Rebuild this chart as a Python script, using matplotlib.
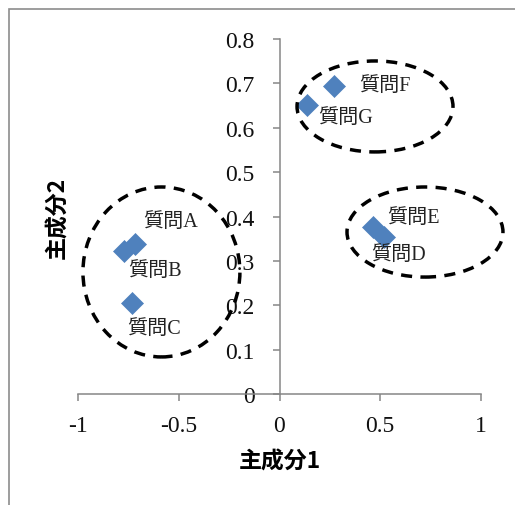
import matplotlib
matplotlib.use("Agg")
import matplotlib.pyplot as plt
from matplotlib.patches import Ellipse, Rectangle

# Data
labels = ["質問A", "質問B", "質問C", "質問D", "質問E", "質問F", "質問G"]
pc1 = [-0.717, -0.770, -0.730, 0.519, 0.466, 0.272, 0.135]
pc2 = [0.338, 0.323, 0.204, 0.353, 0.376, 0.693, 0.651]
# label offsets in points (dx, dy)
label_offsets = [(6, 16), (3, -14), (-4, -18), (-9, -12), (10, 7), (18, 1), (8, -9)]

# Cluster ellipses: center x, center y, width, height (data units)
ell_cx = [-0.586, 0.474, 0.722]
ell_cy = [0.275, 0.648, 0.365]
ell_w = [0.779, 0.774, 0.774]
ell_h = [0.383, 0.205, 0.203]

xticks = [-1, -0.5, 0, 0.5, 1]
xticklabels = ["-1", "-0.5", "0", "0.5", "1"]
yticks = [0, 0.1, 0.2, 0.3, 0.4, 0.5, 0.6, 0.7, 0.8]
yticklabels = ["0", "0.1", "0.2", "0.3", "0.4", "0.5", "0.6", "0.7", "0.8"]

W, H = 515, 506
fig = plt.figure(figsize=(W / 100, H / 100), dpi=100)
ax = fig.add_axes([78 / W, 1 - 395 / H, (481 - 78) / W, (395 - 40) / H])
ax.patch.set_alpha(0)

# outer chart frame (gray, cut at right/bottom)
fig.patches.append(Rectangle((9 / W, -0.1), 1.2, 1 - 10 / H + 0.1, transform=fig.transFigure,
                             fill=False, edgecolor="#8c8c8c", linewidth=1.2))

axis_col = "#868686"
ax.set_xlim(-1, 1)
ax.set_ylim(0, 0.8)
ax.spines["left"].set_position(("data", 0))
ax.spines["bottom"].set_position(("data", 0))
ax.spines["top"].set_visible(False)
ax.spines["right"].set_visible(False)
for s in ("left", "bottom"):
    ax.spines[s].set_color(axis_col)
    ax.spines[s].set_linewidth(1.1)

serif = ["Liberation Serif", "Noto Sans CJK JP"]
ax.set_xticks(xticks)
ax.set_xticklabels(xticklabels)
ax.set_yticks(yticks)
ax.set_yticklabels(yticklabels)
for t in ax.get_xticklabels() + ax.get_yticklabels():
    t.set_fontfamily(serif)
    t.set_fontsize(17)
    t.set_color("#111111")
ax.tick_params(axis="both", direction="out", length=5, width=1.1, color=axis_col)
ax.tick_params(axis="x", pad=10)
ax.tick_params(axis="y", pad=13)

ax.scatter(pc1, pc2, marker="D", s=125, color="#4F81BD", edgecolors="#4F81BD",
           linewidths=0.5, zorder=3)

for lab, x, y, (dx, dy) in zip(labels, pc1, pc2, label_offsets):
    ax.annotate(lab, (x, y), xytext=(dx, dy), textcoords="offset points",
                ha="left", va="center", fontsize=14.5, family=serif, color="#222222",
                zorder=4)

for cx, cy, w, h in zip(ell_cx, ell_cy, ell_w, ell_h):
    e = Ellipse((cx, cy), w, h, fill=False, edgecolor="black", linewidth=2.5,
                linestyle=(0, (3.2, 2.4)), clip_on=False, zorder=5)
    ax.add_patch(e)

ax.text(0.5, -0.19, "主成分1", transform=ax.transAxes, ha="center", va="center",
        fontsize=16.5, fontweight="bold", family=["Noto Sans CJK JP", "DejaVu Sans"])
ax.text(-0.05, 0.5, "主成分2", transform=ax.transAxes, ha="center", va="center",
        rotation=90, fontsize=16.5, fontweight="bold",
        family=["Noto Sans CJK JP", "DejaVu Sans"])

fig.savefig("out.png", dpi=100)
